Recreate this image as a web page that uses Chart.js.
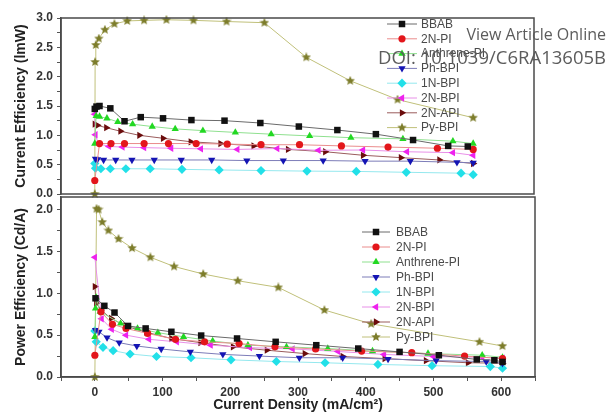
<!DOCTYPE html>
<html>
<head>
<meta charset="utf-8">
<script src="https://cdn.jsdelivr.net/npm/chart.js@4.4.0/dist/chart.umd.min.js"></script>
<style>
body { margin: 0; background: #fff; width: 608px; height: 414px; position: relative; overflow: hidden; }
canvas { position: absolute; left: 0; top: 0; }
.wm { position: absolute; right: 2px; color: #5c5c5c; font-family: "Open Sans", sans-serif; white-space: nowrap; }
</style>
</head>
<body>
<canvas id="ceChart" width="608" height="414"></canvas>
<canvas id="peChart" width="608" height="414"></canvas>
<div class="wm" style="top:23px;font-size:16px">View Article Online</div>
<div class="wm" style="top:44px;font-size:18.5px">DOI: 10.1039/C6RA13605B</div>
<script>
const seriesNames = ['BBAB', '2N-PI', 'Anthrene-PI', 'Ph-BPI', '1N-BPI', '2N-BPI', '2N-API', 'Py-BPI'];

// current efficiency (top panel), [current density, value]
const ceBBAB = [[0,1.45],[2.5,1.49],[7,1.50],[23,1.46],[44,1.24],[68,1.31],[101,1.29],[143,1.26],[192,1.25],[245,1.21],[302,1.15],[359,1.09],[416,1.02],[471,0.92],[523,0.82],[552,0.81]];
const ce2NPI = [[0,0.23],[7,0.86],[24,0.86],[44,0.86],[73,0.86],[109,0.86],[150,0.86],[196,0.85],[246,0.84],[303,0.84],[365,0.82],[434,0.80],[507,0.78],[560,0.76]];
const ceAnthrene = [[0,0.86],[2,1.33],[7,1.32],[18,1.29],[34,1.23],[56,1.19],[85,1.15],[119,1.11],[160,1.08],[208,1.05],[261,1.02],[318,0.99],[379,0.96],[456,0.94],[530,0.90],[560,0.86]];
const cePhBPI = [[1,0.60],[4,0.59],[13,0.58],[31,0.58],[55,0.58],[88,0.58],[128,0.58],[173,0.58],[225,0.57],[279,0.57],[338,0.57],[400,0.56],[467,0.56],[536,0.54],[560,0.53]];
const ce1NBPI = [[0,0.52],[1,0.44],[9,0.43],[23,0.43],[46,0.43],[82,0.43],[129,0.42],[184,0.41],[246,0.40],[314,0.39],[387,0.385],[461,0.37],[542,0.355],[560,0.33]];
const ce2NBPI = [[0,1.36],[1,1.01],[5,0.86],[21,0.81],[41,0.80],[73,0.79],[113,0.78],[157,0.77],[211,0.76],[270,0.775],[331,0.745],[397,0.75],[462,0.72],[530,0.705],[560,0.66]];
const ce2NAPI = [[0,1.19],[4,1.17],[17,1.13],[38,1.07],[66,1.00],[101,0.95],[142,0.89],[186,0.86],[235,0.82],[286,0.76],[341,0.72],[397,0.66],[453,0.62],[510,0.58],[560,0.52]];
const cePyBPI = [[0,0],[0.5,2.25],[1.5,2.54],[6,2.65],[15,2.80],[29,2.90],[48,2.95],[73,2.96],[106,2.97],[146,2.96],[195,2.94],[251,2.92],[313,2.33],[378,1.93],[448,1.61],[560,1.30]];

// power efficiency (bottom panel)
const peBBAB = [[1,0.94],[14,0.85],[29,0.77],[49,0.61],[75,0.58],[113,0.54],[157,0.495],[210,0.46],[267,0.42],[327,0.38],[389,0.34],[450,0.30],[508,0.26],[564,0.21],[590,0.20],[602,0.18]];
const pe2NPI = [[0,0.26],[9,0.78],[26,0.63],[46,0.58],[78,0.52],[119,0.45],[162,0.42],[213,0.40],[266,0.36],[326,0.335],[394,0.31],[468,0.29],[546,0.25],[602,0.22]];
const peAnthrene = [[0,0.48],[1,0.82],[2,0.95],[8,0.78],[38,0.64],[63,0.58],[93,0.53],[131,0.48],[174,0.43],[226,0.38],[283,0.36],[344,0.34],[410,0.31],[492,0.28],[572,0.26],[602,0.235]];
const pePhBPI = [[1,0.56],[6,0.54],[18,0.47],[36,0.41],[62,0.37],[98,0.335],[141,0.30],[189,0.27],[243,0.25],[302,0.23],[366,0.23],[433,0.215],[504,0.195],[578,0.185],[602,0.165]];
const pe1NBPI = [[0,0.55],[2,0.42],[12,0.355],[27,0.315],[52,0.275],[91,0.245],[142,0.23],[201,0.205],[268,0.185],[340,0.17],[418,0.15],[498,0.135],[584,0.125],[602,0.105]];
const pe2NBPI = [[0,1.43],[10,0.695],[25,0.57],[46,0.50],[80,0.45],[121,0.42],[171,0.38],[229,0.35],[292,0.335],[359,0.305],[427,0.27],[500,0.245],[572,0.235],[602,0.225]];
const pe2NAPI = [[0,1.08],[2,0.88],[9,0.80],[24,0.70],[45,0.61],[76,0.535],[113,0.46],[156,0.41],[204,0.36],[254,0.32],[310,0.28],[366,0.245],[428,0.22],[489,0.195],[551,0.17],[602,0.165]];
const pePyBPI = [[0,0],[2.5,2.01],[5.5,2.00],[11,1.85],[20,1.75],[35,1.65],[55,1.54],[82,1.43],[117,1.32],[160,1.23],[211,1.15],[271,1.07],[339,0.80],[408,0.635],[568,0.42],[602,0.37]];

const xTickLabels = [0, 100, 200, 300, 400, 500, 600];
const xTickMarks = [-50, 0, 50, 100, 150, 200, 250, 300, 350, 400, 450, 500, 550, 600, 650];
const ceTickMarks = [0, 0.25, 0.5, 0.75, 1.0, 1.25, 1.5, 1.75, 2.0, 2.25, 2.5, 2.75, 3.0];
const peTickMarks = [0, 0.25, 0.5, 0.75, 1.0, 1.25, 1.5, 1.75, 2.0];
const yTickLabels = [0, 0.5, 1.0, 1.5, 2.0, 2.5, 3.0];

// styles
const markerColors = ['#111111', '#e3161b', '#22d822', '#1414b4', '#22e0e8', '#ee22ee', '#6b0c0c', '#7d7d2b'];
const lineColors = ['#6a6a6a', '#ea8c8c', '#8fe08f', '#7c7cb8', '#94e8ee', '#e890e8', '#9a5c5c', '#c0c07a'];

function makeStar(fill, size) {
    const c = document.createElement('canvas');
    c.width = size; c.height = size;
    const g = c.getContext('2d');
    const r = size / 2, ri = r * 0.45;
    g.beginPath();
    for (let i = 0; i < 10; i++) {
        const rr = i % 2 ? ri : r;
        const a = -Math.PI / 2 + i * Math.PI / 5;
        g.lineTo(r + rr * Math.cos(a), r + rr * Math.sin(a));
    }
    g.closePath();
    g.fillStyle = fill;
    g.fill();
    return c;
}

const pointStyles = ['rect', 'circle', 'triangle', 'triangle', 'rectRot', 'triangle', 'triangle', makeStar('#7d7d2b', 10)];
const pointRotations = [0, 0, 0, 180, 0, -90, 90, 0];
const pointRadii = [4.6, 3.6, 4.2, 4.2, 4.6, 4.2, 4.2, 5];

function makeDatasets(series) {
    return series.map((pts, i) => ({
        label: seriesNames[i],
        data: pts.map(p => ({ x: p[0], y: p[1] })),
        borderColor: lineColors[i],
        borderWidth: 1,
        backgroundColor: markerColors[i],
        pointBackgroundColor: markerColors[i],
        pointBorderColor: markerColors[i],
        pointBorderWidth: 0,
        pointStyle: pointStyles[i],
        pointRotation: pointRotations[i],
        pointRadius: pointRadii[i],
        tension: 0,
        clip: false,
    }));
}

const framePlugin = {
    id: 'frame',
    afterDatasetsDraw(chart) {
        const a = chart.chartArea, ctx = chart.ctx;
        ctx.save();
        ctx.strokeStyle = '#4a4a4a';
        ctx.lineWidth = 1.5;
        ctx.strokeRect(a.left, a.top, a.right - a.left, a.bottom - a.top);
        ctx.restore();
    }
};

const insideLegend = {
    id: 'insideLegend',
    afterDraw(chart, args, opts) {
        const ctx = chart.ctx;
        ctx.save();
        ctx.font = '12px "Liberation Sans", Arial, sans-serif';
        ctx.textBaseline = 'middle';
        chart.data.datasets.forEach((ds, i) => {
            const y = opts.y + i * opts.dy;
            ctx.strokeStyle = ds.borderColor;
            ctx.lineWidth = 1;
            ctx.beginPath();
            ctx.moveTo(opts.x0, y);
            ctx.lineTo(opts.x1, y);
            ctx.stroke();
            ctx.fillStyle = ds.pointBackgroundColor;
            Chart.helpers.drawPoint(ctx, {
                pointStyle: ds.pointStyle, rotation: ds.pointRotation,
                radius: ds.pointRadius, borderWidth: 0
            }, (opts.x0 + opts.x1) / 2, y);
            ctx.fillStyle = '#4a4a4a';
            ctx.fillText(ds.label, opts.tx, y + 0.5);
        });
        ctx.restore();
    }
};

const tickFont = { family: '"Liberation Sans", Arial, sans-serif', size: 12, weight: 'bold' };
const titleFont = { family: '"Liberation Sans", Arial, sans-serif', size: 14, weight: 'bold' };
const near = (a, list) => list.some(b => Math.abs(a - b) < 1e-6);

function yAxis(min, max, marks, title) {
    return {
        min: min, max: max,
        afterFit(s) { s.width = 61; },
        afterBuildTicks(s) { s.ticks = marks.map(v => ({ value: v })); },
        ticks: {
            autoSkip: false, padding: 4, color: '#333', font: tickFont,
            callback: v => near(v, yTickLabels) ? v.toFixed(1) : ''
        },
        grid: { drawOnChartArea: false, tickLength: 4, color: '#555' },
        border: { color: '#4a4a4a', width: 1.5 },
        title: { display: true, text: title, font: titleFont, color: '#222', padding: { top: 13, bottom: 0 } }
    };
}

function baseOptions(padding) {
    return {
        responsive: false, animation: false, events: [],
        layout: { padding: padding },
        plugins: { legend: { display: false }, tooltip: { enabled: false } },
    };
}

const ceOptions = baseOptions({ left: 0, right: 74, top: 18, bottom: 220 });
ceOptions.scales = {
    x: { type: 'linear', min: -50, max: 650, display: false },
    y: yAxis(0, 3.0, ceTickMarks, 'Current Efficiency (lmW)')
};
ceOptions.plugins.insideLegend = { x0: 387, x1: 417, tx: 421, y: 24, dy: 14.8 };

new Chart(document.getElementById('ceChart'), {
    type: 'line',
    data: { datasets: makeDatasets([ceBBAB, ce2NPI, ceAnthrene, cePhBPI, ce1NBPI, ce2NBPI, ce2NAPI, cePyBPI]) },
    options: ceOptions,
    plugins: [framePlugin, insideLegend]
});

const peOptions = baseOptions({ left: 0, right: 73, top: 197, bottom: 0 });
peOptions.scales = {
    x: {
        type: 'linear', min: -50, max: 650,
        afterFit(s) { s.height = 37; },
        afterBuildTicks(s) { s.ticks = xTickMarks.map(v => ({ value: v })); },
        ticks: {
            autoSkip: false, maxRotation: 0, padding: 4, color: '#333', font: tickFont,
            callback: v => near(v, xTickLabels) ? String(v) : ''
        },
        grid: { drawOnChartArea: false, tickLength: 4, color: '#555' },
        border: { color: '#4a4a4a', width: 1.5 },
        title: { display: true, text: 'Current Density (mA/cm²)', font: titleFont, color: '#222', padding: { top: 0, bottom: 0 } }
    },
    y: yAxis(0, 2.15, peTickMarks, 'Power Efficiency (Cd/A)')
};
peOptions.plugins.insideLegend = { x0: 362, x1: 390, tx: 396, y: 232, dy: 15 };

new Chart(document.getElementById('peChart'), {
    type: 'line',
    data: { datasets: makeDatasets([peBBAB, pe2NPI, peAnthrene, pePhBPI, pe1NBPI, pe2NBPI, pe2NAPI, pePyBPI]) },
    options: peOptions,
    plugins: [framePlugin, insideLegend]
});
</script>
</body>
</html>
